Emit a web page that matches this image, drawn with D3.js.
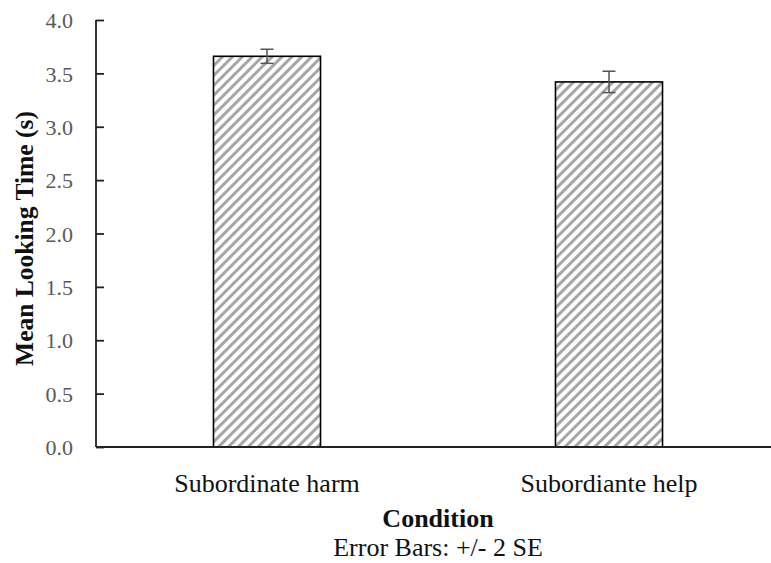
<!DOCTYPE html>
<html>
<head>
<meta charset="utf-8">
<script src="https://cdn.jsdelivr.net/npm/d3@7"></script>
</head>
<body style="margin:0">
<svg id="chart" width="771" height="563"></svg>
<script>
const categories = ["Subordinate harm", "Subordiante help"];
const means = [3.66, 3.42];
const errors = [0.066, 0.10];
const yTicks = [0, 0.5, 1.0, 1.5, 2.0, 2.5, 3.0, 3.5, 4.0];
const yTitle = "Mean Looking Time (s)";
const xTitle = "Condition";
const note = "Error Bars: +/- 2 SE";

const svg = d3.select("#chart");
const pLeft = 96, pRight = 780, pTop = 20, pBottom = 447;
const FF = '"Liberation Serif", cursive';

const x = d3.scaleBand().domain(categories).range([pLeft, pRight]).paddingInner(0.687).paddingOuter(0.3435);
const y = d3.scaleLinear().domain([0, 4]).range([pBottom, pTop]);

const defs = svg.append("defs");
const pat = defs.append("pattern")
  .attr("id", "hatch")
  .attr("patternUnits", "userSpaceOnUse")
  .attr("width", 7).attr("height", 7)
  .attr("patternTransform", "rotate(45)");
pat.append("rect").attr("width", 7).attr("height", 7).attr("fill", "#fff");
pat.append("line").attr("x1", 1.5).attr("y1", 0).attr("x2", 1.5).attr("y2", 7)
  .attr("stroke", "#a6a6a6").attr("stroke-width", 3);

svg.selectAll("rect.bar").data(categories).enter().append("rect")
  .attr("class", "bar")
  .attr("x", d => x(d))
  .attr("y", (d, i) => y(means[i]))
  .attr("width", x.bandwidth())
  .attr("height", (d, i) => y(0) - y(means[i]))
  .attr("fill", "url(#hatch)")
  .attr("stroke", "#000")
  .attr("stroke-width", 1.6);

const eg = svg.append("g").attr("stroke", "#555").attr("stroke-width", 1.5);
categories.forEach((c, i) => {
  const cx = x(c) + x.bandwidth() / 2;
  const y1 = y(means[i] + errors[i]), y2 = y(means[i] - errors[i]);
  eg.append("line").attr("x1", cx).attr("x2", cx).attr("y1", y1).attr("y2", y2);
  eg.append("line").attr("x1", cx - 6.5).attr("x2", cx + 6.5).attr("y1", y1).attr("y2", y1);
  eg.append("line").attr("x1", cx - 6.5).attr("x2", cx + 6.5).attr("y1", y2).attr("y2", y2);
});

const yAxis = d3.axisRight(y).tickValues(yTicks).tickSize(8).tickFormat(d3.format(".1f"));
const ya = svg.append("g").attr("transform", `translate(${pLeft},0)`).call(yAxis);
ya.attr("font-family", FF);
ya.select(".domain").attr("stroke", "#222").attr("stroke-width", 1.8).attr("d", `M0,${pTop}V${pBottom}`);
ya.selectAll(".tick line").attr("stroke", "#222").attr("stroke-width", 1.8);
ya.selectAll(".tick text")
  .attr("x", -23).attr("dy", "0.35em")
  .attr("text-anchor", "end")
  .attr("fill", "#595959")
  .style("font-family", FF)
  .style("font-size", "22px");

const xAxis = d3.axisBottom(x).tickSize(0).tickPadding(25);
const xa = svg.append("g").attr("transform", `translate(0,${pBottom})`).call(xAxis);
xa.attr("font-family", FF);
xa.select(".domain").attr("stroke", "#222").attr("stroke-width", 1.8).attr("d", `M${pLeft},0H${pRight}`);
xa.selectAll(".tick text")
  .attr("fill", "#111")
  .attr("dy", "0.75em")
  .style("font-family", FF)
  .style("font-size", "26px");

svg.append("text")
  .attr("transform", `translate(33,${(pTop + pBottom) / 2 + 5}) rotate(-90)`)
  .attr("text-anchor", "middle")
  .style("font-family", FF)
  .style("font-size", "25.5px").style("font-weight", "bold")
  .attr("fill", "#111")
  .text(yTitle);

svg.append("text")
  .attr("x", (pLeft + pRight) / 2).attr("y", 527)
  .attr("text-anchor", "middle")
  .style("font-family", FF)
  .style("font-size", "26px").style("font-weight", "bold")
  .attr("fill", "#111")
  .text(xTitle);

svg.append("text")
  .attr("x", (pLeft + pRight) / 2).attr("y", 556)
  .attr("text-anchor", "middle")
  .style("font-family", FF)
  .style("font-size", "26px")
  .attr("fill", "#111")
  .text(note);
</script>
</body>
</html>
